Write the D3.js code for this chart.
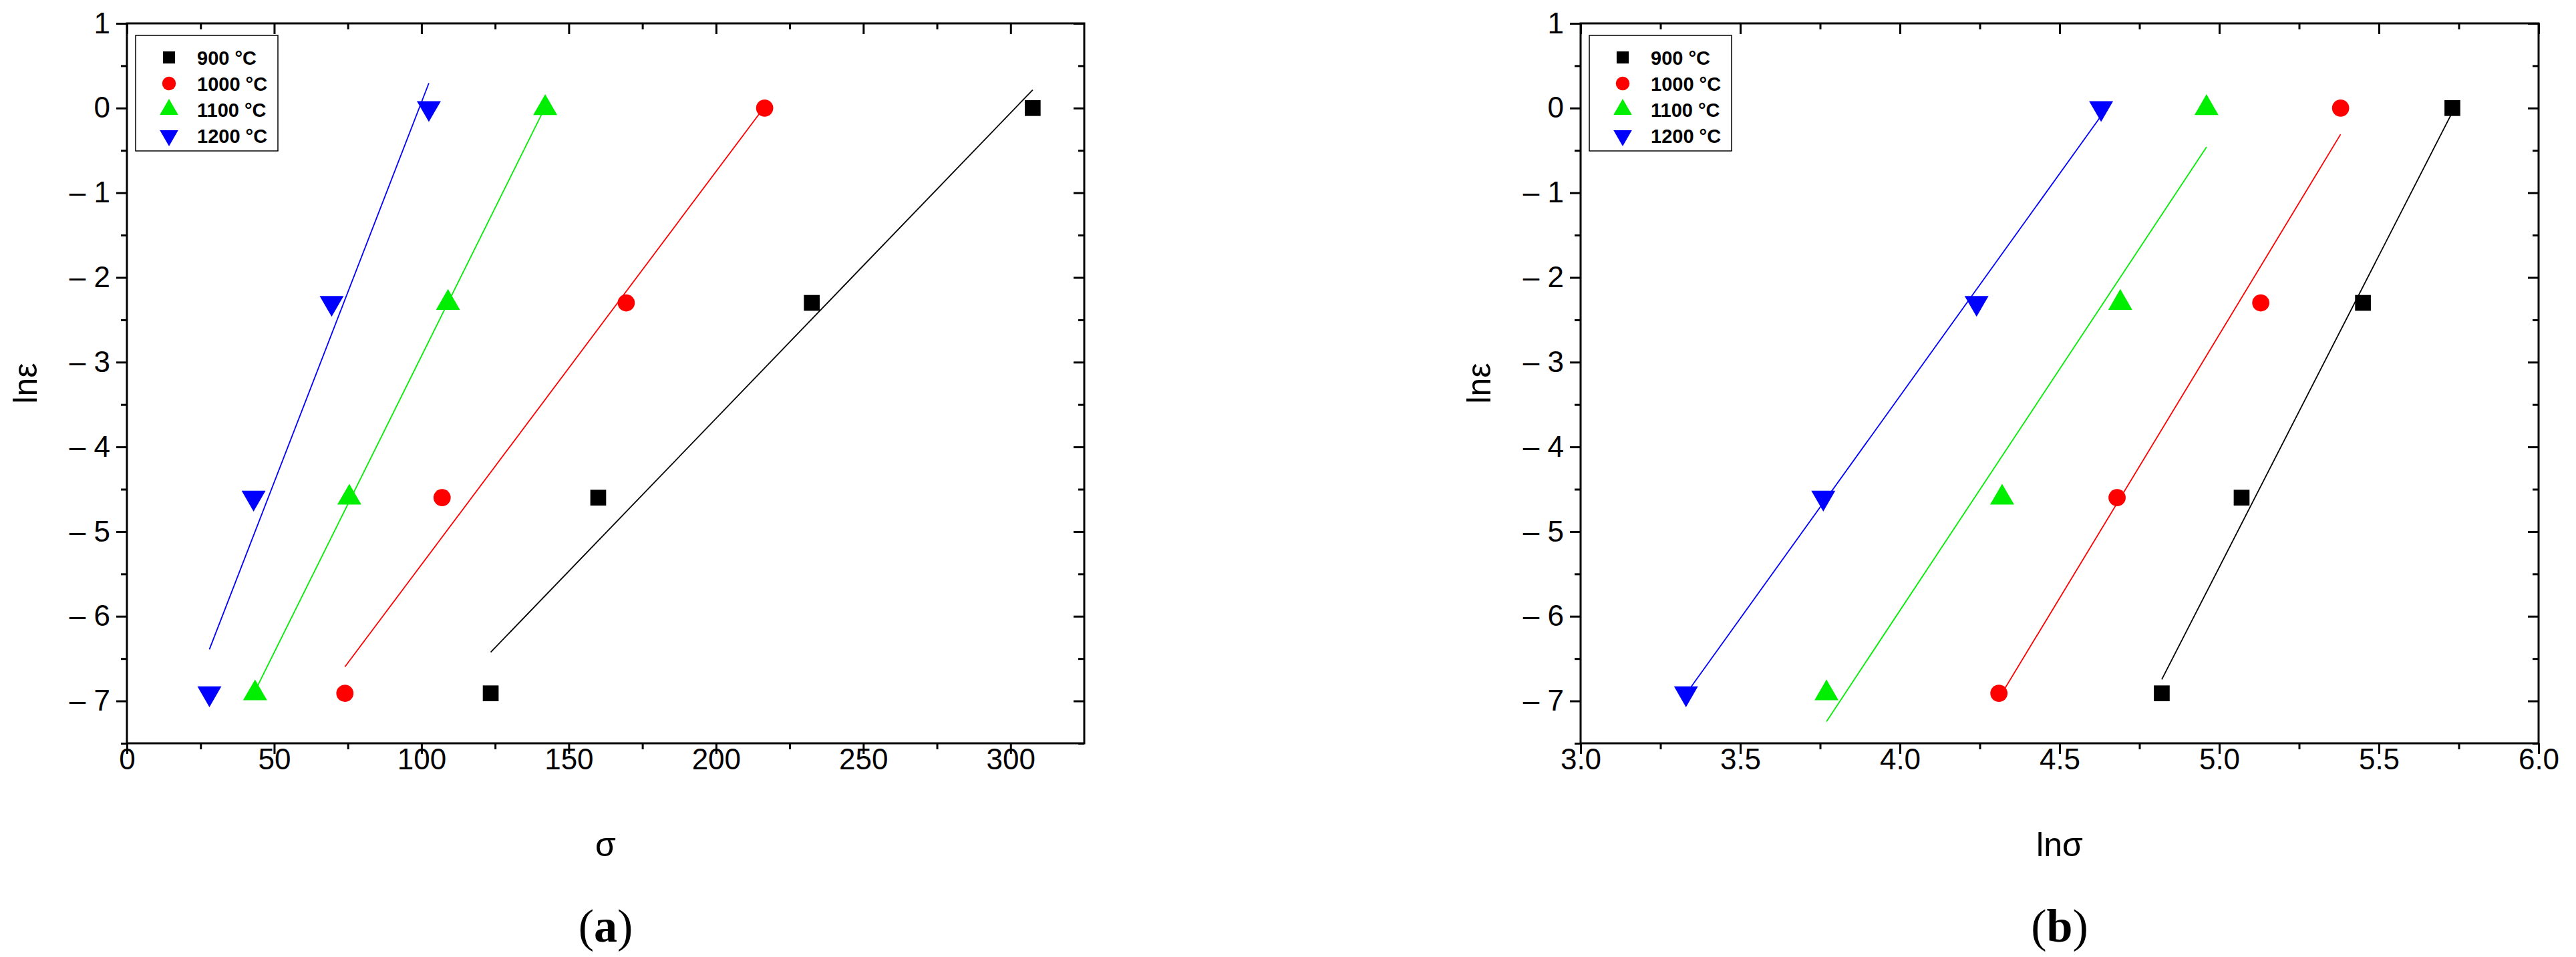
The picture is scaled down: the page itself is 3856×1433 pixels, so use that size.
<!DOCTYPE html>
<html><head><meta charset="utf-8">
<script src="https://cdn.jsdelivr.net/npm/d3@7"></script>
<style>body{margin:0;background:#fff}text{font-family:"Liberation Sans",Arial,sans-serif}</style>
</head><body>
<svg id="chart" width="3856" height="1433"></svg>
<script>
// Data
var lnEps = [-6.91, -4.6, -2.3, 0];
var temps = ['900 °C', '1000 °C', '1100 °C', '1200 °C'];
var colors = ['#000000', '#ff0000', '#00ee00', '#0000ff'];
var symbols = [d3.symbolSquare, d3.symbolCircle, d3.symbolTriangle, 'down'];
var sigma900 = [123.5, 160, 232.5, 307.5];
var sigma1000 = [74, 107, 169.5, 216.5];
var sigma1100 = [43.5, 75.5, 109, 142];
var sigma1200 = [28, 43, 69.5, 102.5];
var lnSigma900 = [4.82, 5.07, 5.45, 5.73];
var lnSigma1000 = [4.31, 4.68, 5.13, 5.38];
var lnSigma1100 = [3.77, 4.32, 4.69, 4.96];
var lnSigma1200 = [3.33, 3.76, 4.24, 4.63];
var xTicksA = [0, 50, 100, 150, 200, 250, 300];
var xTicksB = [3.0, 3.5, 4.0, 4.5, 5.0, 5.5, 6.0];
var yTicks = [1, 0, -1, -2, -3, -4, -5, -6, -7];

var svg = d3.select('#chart');

// least squares fit, drawn over the data's x range
var fit = function (xs, ys) {
  let mx = d3.mean(xs), my = d3.mean(ys);
  let b = d3.sum(xs, (x, i) => (x - mx) * (ys[i] - my)) / d3.sum(xs, x => (x - mx) * (x - mx));
  return x => my + b * (x - mx);
};

var drawPanel = function (opt) {
  let g = svg.append('g');
  let x = d3.scaleLinear().domain(opt.xDomain).range([opt.left, opt.right]);
  let y = d3.scaleLinear().domain([-7.5, 1]).range([1113, 35]);

  // fitted lines
  opt.series.forEach((xs, i) => {
    let f = fit(xs, lnEps);
    let ext = d3.extent(xs);
    g.append('line')
      .attr('x1', x(ext[0])).attr('y1', y(f(ext[0])))
      .attr('x2', x(ext[1])).attr('y2', y(f(ext[1])))
      .attr('stroke', colors[i]).attr('stroke-width', 1.8);
  });

  // markers
  opt.series.forEach((xs, i) => {
    let sym = symbols[i] === 'down' ? d3.symbolTriangle : symbols[i];
    let size = sym === d3.symbolCircle ? 520 : 560;
    g.selectAll(null).data(xs).enter().append('path')
      .attr('d', d3.symbol(sym, size))
      .attr('transform', (d, j) => `translate(${x(d)},${y(lnEps[j])})` + (symbols[i] === 'down' ? ' rotate(180)' : ''))
      .attr('fill', colors[i]);
  });

  // frame
  g.append('rect').attr('x', opt.left).attr('y', 35)
    .attr('width', opt.right - opt.left).attr('height', 1113 - 35)
    .attr('fill', 'none').attr('stroke', '#000').attr('stroke-width', 3);

  let fmtY = d => d < 0 ? '\u2013 ' + (-d) : String(d);
  let axL = d3.axisLeft(y).tickValues(yTicks).tickSize(16).tickFormat(fmtY);
  let axR = d3.axisRight(y).tickValues(yTicks).tickSize(-16).tickFormat('');
  let axB = d3.axisBottom(x).tickValues(opt.xTicks).tickSize(16).tickFormat(opt.fmtX);
  let axT = d3.axisTop(x).tickValues(opt.xTicks).tickSize(-16).tickFormat('');
  let yMinor = d3.range(-7.5, 1, 0.5).filter(v => !yTicks.includes(v));
  let xMinor = opt.xMinor;

  let put = (ax, tr) => {
    let a = g.append('g').attr('transform', tr).call(ax);
    a.select('.domain').remove();
    a.selectAll('line').attr('stroke-width', 3);
    a.selectAll('text').attr('font-size', 44).attr('fill', '#000');
    return a;
  };
  put(axL, `translate(${opt.left},0)`).selectAll('text').attr('dx', -6);
  put(axR, `translate(${opt.right},0)`);
  put(axB, 'translate(0,1113)').selectAll('text').attr('dy', 20);
  put(axT, 'translate(0,35)');
  put(d3.axisLeft(y).tickValues(yMinor).tickSize(9).tickFormat(''), `translate(${opt.left},0)`);
  put(d3.axisRight(y).tickValues(yMinor).tickSize(-9).tickFormat(''), `translate(${opt.right},0)`);
  put(d3.axisBottom(x).tickValues(xMinor).tickSize(9).tickFormat(''), 'translate(0,1113)');
  put(d3.axisTop(x).tickValues(xMinor).tickSize(-9).tickFormat(''), 'translate(0,35)');

  // axis titles
  let cx = (opt.left + opt.right) / 2;
  g.append('text').attr('x', cx).attr('y', 1282).attr('text-anchor', 'middle')
    .attr('font-size', 50).text(opt.xLabel);
  g.append('text').attr('transform', `translate(${opt.left - 135},574) rotate(-90)`)
    .attr('text-anchor', 'middle').attr('font-size', 50).text('lnε');
  g.append('text').attr('x', cx).attr('y', 1410).attr('text-anchor', 'middle')
    .style('font-family', '"Liberation Serif",serif').attr('font-size', 70)
    .html(`(<tspan font-weight="bold">${opt.tag}</tspan>)`);

  // legend
  let lx = opt.left + 13, ly = 53;
  g.append('rect').attr('x', lx).attr('y', ly).attr('width', 213).attr('height', 173)
    .attr('fill', '#fff').attr('stroke', '#000').attr('stroke-width', 1.5);
  temps.forEach((t, i) => {
    let yy = ly + 33 + i * 39;
    g.append('path')
      .attr('d', d3.symbol(symbols[i] === 'down' ? d3.symbolTriangle : symbols[i], 330))
      .attr('transform', `translate(${lx + 50},${yy})` + (symbols[i] === 'down' ? ' rotate(180)' : ''))
      .attr('fill', colors[i]);
    g.append('text').attr('x', lx + 92).attr('y', yy + 11)
      .attr('font-size', 29).attr('font-weight', 'bold').text(t);
  });
};

drawPanel({
  left: 190, right: 1623, xDomain: [0, 325], xTicks: xTicksA,
  xMinor: d3.range(25, 325, 50), fmtX: d3.format('d'),
  series: [sigma900, sigma1000, sigma1100, sigma1200], xLabel: 'σ', tag: 'a'
});
drawPanel({
  left: 2366, right: 3800, xDomain: [3, 6], xTicks: xTicksB,
  xMinor: d3.range(3.25, 6, 0.5), fmtX: d3.format('.1f'),
  series: [lnSigma900, lnSigma1000, lnSigma1100, lnSigma1200], xLabel: 'lnσ', tag: 'b'
});
</script>
</body></html>
